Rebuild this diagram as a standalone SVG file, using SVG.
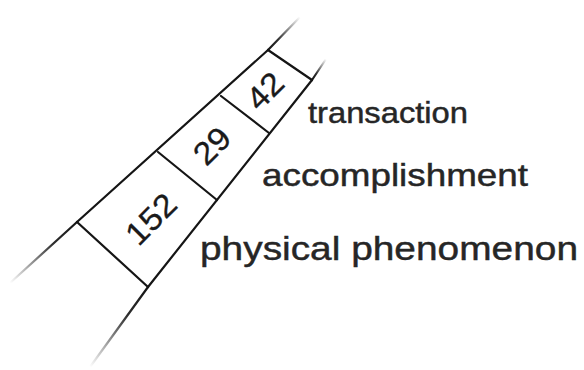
<svg xmlns="http://www.w3.org/2000/svg" width="584" height="370" viewBox="0 0 584 370">
  <style>
    .rail { stroke: #151515; stroke-width: 2.2; fill: none; stroke-linecap: round; }
    .tail { stroke-width: 2.2; fill: none; stroke-linecap: round; }
    .num { font-family: "Liberation Sans", Arial, sans-serif; font-size: 32px; fill: #1a1a1a; stroke: #1a1a1a; stroke-width: 0.3; text-anchor: middle; }
    .lbl { font-family: "Liberation Sans", Arial, sans-serif; fill: #262626; stroke: #262626; stroke-width: 0.45; }
  </style>
  <defs>
    <!-- fading ends of the two rails -->
    <linearGradient id="fadeUL" gradientUnits="userSpaceOnUse" x1="77" y1="222" x2="10" y2="283">
      <stop offset="0" stop-color="#151515" stop-opacity="1"/>
      <stop offset="0.35" stop-color="#151515" stop-opacity="0.9"/>
      <stop offset="1" stop-color="#151515" stop-opacity="0"/>
    </linearGradient>
    <linearGradient id="fadeUR" gradientUnits="userSpaceOnUse" x1="268" y1="50" x2="300" y2="17">
      <stop offset="0" stop-color="#151515" stop-opacity="1"/>
      <stop offset="0.3" stop-color="#151515" stop-opacity="0.9"/>
      <stop offset="1" stop-color="#151515" stop-opacity="0"/>
    </linearGradient>
    <linearGradient id="fadeLL" gradientUnits="userSpaceOnUse" x1="148" y1="287" x2="90" y2="367">
      <stop offset="0" stop-color="#151515" stop-opacity="1"/>
      <stop offset="0.35" stop-color="#151515" stop-opacity="0.9"/>
      <stop offset="1" stop-color="#151515" stop-opacity="0"/>
    </linearGradient>
    <linearGradient id="fadeLR" gradientUnits="userSpaceOnUse" x1="312" y1="80" x2="326" y2="59">
      <stop offset="0" stop-color="#151515" stop-opacity="1"/>
      <stop offset="0.3" stop-color="#151515" stop-opacity="0.9"/>
      <stop offset="1" stop-color="#151515" stop-opacity="0"/>
    </linearGradient>
  </defs>
  <rect width="584" height="370" fill="#ffffff"/>

  <!-- strip rails and cell dividers -->
  <g id="connectors">
    <line class="rail" x1="77" y1="222" x2="268" y2="50"/>
    <line class="rail" x1="148" y1="287" x2="312" y2="80"/>
    <line class="tail" stroke="url(#fadeUL)" x1="77" y1="222" x2="10" y2="283"/>
    <line class="tail" stroke="url(#fadeUR)" x1="268" y1="50" x2="300" y2="17"/>
    <line class="tail" stroke="url(#fadeLL)" x1="148" y1="287" x2="90" y2="367"/>
    <line class="tail" stroke="url(#fadeLR)" x1="312" y1="80" x2="326" y2="59"/>
    <line class="rail" x1="77" y1="222" x2="148" y2="287"/>
    <line class="rail" x1="158" y1="152" x2="217" y2="200"/>
    <line class="rail" x1="221" y1="96" x2="269" y2="133"/>
    <line class="rail" x1="268" y1="50" x2="312" y2="80"/>
  </g>

  <!-- cells -->
  <g id="cell-152">
    <text class="num" transform="translate(151,219) rotate(-45) scale(1.08,1)" dy="11">152</text>
  </g>
  <g id="cell-29">
    <text class="num" transform="translate(212,146) rotate(-45) scale(1.08,1)" dy="11">29</text>
  </g>
  <g id="cell-42">
    <text class="num" transform="translate(265,91) rotate(-45) scale(1.08,1)" dy="11">42</text>
  </g>

  <!-- level labels -->
  <g id="label-transaction">
    <text class="lbl" x="308" y="123" font-size="29" textLength="160" lengthAdjust="spacingAndGlyphs">transaction</text>
  </g>
  <g id="label-accomplishment">
    <text class="lbl" x="262" y="186" font-size="32" textLength="266" lengthAdjust="spacingAndGlyphs">accomplishment</text>
  </g>
  <g id="label-physical">
    <text class="lbl" x="200" y="260" font-size="34" textLength="378" lengthAdjust="spacingAndGlyphs">physical phenomenon</text>
  </g>
</svg>
